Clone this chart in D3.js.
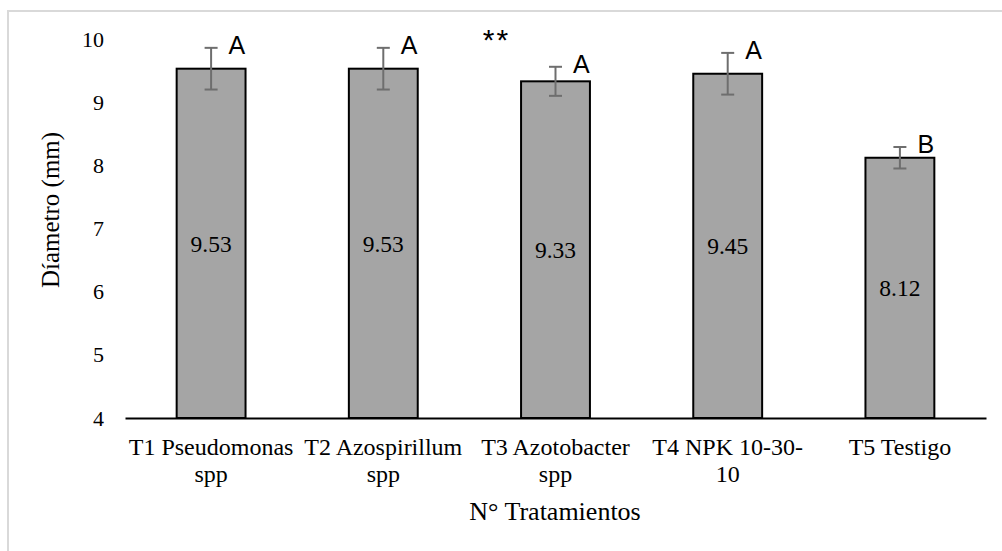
<!DOCTYPE html>
<html>
<head>
<meta charset="utf-8">
<script src="https://cdn.jsdelivr.net/npm/d3@7"></script>
<style>
  html, body { margin: 0; padding: 0; background: #ffffff; }
  svg { display: block; }
  .serif { font-family: "Liberation Serif", Tinos, "Times New Roman", Times, "DejaVu Serif", serif; }
  .sans { font-family: "Liberation Sans", Arimo, Arial, sans-serif; }
</style>
</head>
<body>
<svg id="chart" width="1002" height="551"></svg>
<script>
// Tratamientos y diámetro medio (mm)
const categories = ["T1 Pseudomonas spp", "T2 Azospirillum spp", "T3 Azotobacter spp", "T4 NPK 10-30-10", "T5 Testigo"];
const categoryLines = [["T1 Pseudomonas", "spp"], ["T2 Azospirillum", "spp"], ["T3 Azotobacter", "spp"], ["T4 NPK 10-30-", "10"], ["T5 Testigo"]];
const diametro = [9.53, 9.53, 9.33, 9.45, 8.12];
const errorEstandar = [0.33, 0.33, 0.23, 0.33, 0.17];
const letras = ["A", "A", "A", "A", "B"];
const yTicks = [4, 5, 6, 7, 8, 9, 10];

const svg = d3.select("#chart");

// chart frame
svg.append("rect")
  .attr("x", 8).attr("y", 11)
  .attr("width", 1010).attr("height", 560)
  .attr("fill", "none")
  .attr("stroke", "#d9d9d9")
  .attr("stroke-width", 2);

const plot = { left: 125, right: 986, top: 39, bottom: 418 };

const x = d3.scaleBand()
  .domain(categories)
  .range([plot.left, plot.right])
  .paddingInner(0.6)
  .paddingOuter(0.3);

const y = d3.scaleLinear()
  .domain([4, 10])
  .range([plot.bottom, plot.top]);

// y axis: labels only
const yAxis = svg.append("g")
  .attr("transform", `translate(${plot.left},0)`)
  .call(d3.axisLeft(y).tickValues(yTicks).tickSize(0).tickPadding(21).tickFormat(d3.format("d")));
yAxis.attr("font-family", null);
yAxis.select(".domain").remove();
yAxis.selectAll("text")
  .attr("class", "serif")
  .attr("font-size", 22)
  .attr("fill", "#000");

// bars
svg.append("g").selectAll("rect")
  .data(categories)
  .join("rect")
  .attr("x", d => x(d))
  .attr("y", (d, i) => y(diametro[i]))
  .attr("width", x.bandwidth())
  .attr("height", (d, i) => y(4) - y(diametro[i]))
  .attr("fill", "#a5a5a5")
  .attr("stroke", "#000")
  .attr("stroke-width", 2);

// x axis
const xAxis = svg.append("g")
  .attr("transform", `translate(0,${plot.bottom})`)
  .call(d3.axisBottom(x).tickSize(0).tickSizeOuter(0).tickPadding(0));
xAxis.attr("font-family", null);
xAxis.select(".domain")
  .attr("stroke", "#000")
  .attr("stroke-width", 2);
xAxis.selectAll(".tick text").each(function(d, i) {
  const t = d3.select(this);
  t.text(null)
    .attr("class", "serif")
    .attr("y", 37)
    .attr("dy", null)
    .attr("font-size", 24)
    .attr("fill", "#000");
  categoryLines[i].forEach((line, j) => {
    t.append("tspan")
      .attr("x", 0)
      .attr("y", 37 + j * 27)
      .text(line);
  });
});

// error bars
const eb = svg.append("g").attr("stroke", "#6e6e6e").attr("stroke-width", 2);
categories.forEach((c, i) => {
  const cx = x(c) + x.bandwidth() / 2;
  const y1 = y(diametro[i] + errorEstandar[i]);
  const y2 = y(diametro[i] - errorEstandar[i]);
  eb.append("line").attr("x1", cx).attr("x2", cx).attr("y1", y1).attr("y2", y2);
  eb.append("line").attr("x1", cx - 6.5).attr("x2", cx + 6.5).attr("y1", y1).attr("y2", y1);
  eb.append("line").attr("x1", cx - 6.5).attr("x2", cx + 6.5).attr("y1", y2).attr("y2", y2);
});

// value labels centred in each bar
svg.append("g").selectAll("text")
  .data(categories)
  .join("text")
  .attr("class", "serif")
  .attr("x", d => x(d) + x.bandwidth() / 2)
  .attr("y", (d, i) => (y(diametro[i]) + y(4)) / 2)
  .attr("dy", "0.35em")
  .attr("text-anchor", "middle")
  .attr("font-size", 23.5)
  .attr("fill", "#000")
  .text((d, i) => diametro[i].toFixed(2));

// significance letters
svg.append("g").selectAll("text")
  .data(categories)
  .join("text")
  .attr("class", "sans")
  .attr("x", d => x(d) + x.bandwidth() / 2 + 17.5)
  .attr("y", (d, i) => y(diametro[i] + errorEstandar[i]) + 6)
  .attr("font-size", 25)
  .attr("fill", "#000")
  .text((d, i) => letras[i]);

// significance marker
svg.append("text")
  .attr("class", "sans")
  .attr("x", x(categories[2]) + x.bandwidth() / 2 - 59)
  .attr("y", 50)
  .attr("text-anchor", "middle")
  .attr("font-size", 30)
  .attr("letter-spacing", 2)
  .attr("fill", "#000")
  .text("**");

// axis titles
svg.append("text")
  .attr("class", "serif")
  .attr("transform", "translate(59,210) rotate(-90)")
  .attr("text-anchor", "middle")
  .attr("font-size", 25)
  .attr("fill", "#000")
  .text("Díametro (mm)");

svg.append("text")
  .attr("class", "serif")
  .attr("x", 555)
  .attr("y", 520)
  .attr("text-anchor", "middle")
  .attr("font-size", 26)
  .attr("fill", "#000")
  .text("N° Tratamientos");
</script>
</body>
</html>
